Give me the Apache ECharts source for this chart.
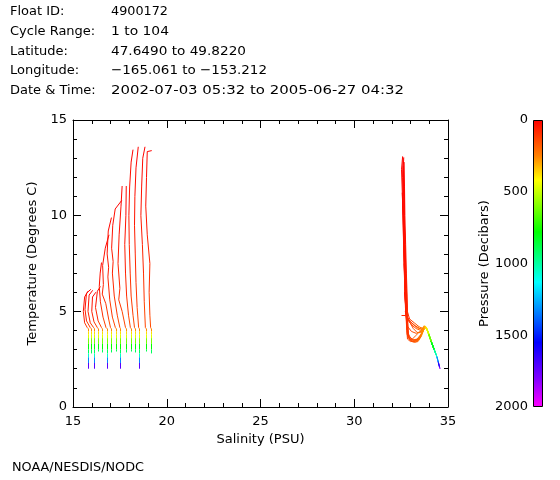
<!DOCTYPE html>
<html><head><meta charset="utf-8">
<script src="https://cdn.jsdelivr.net/npm/echarts@6/dist/echarts.min.js"></script>
<style>html,body{margin:0;padding:0;background:#fff}#c{width:560px;height:480px}</style>
</head><body><div id="c"></div>
<script>
// ---- header text ----
const headerKeys = ['Float ID:', 'Cycle Range:', 'Latitude:', 'Longitude:', 'Date & Time:'];
const headerValues = ['4900172', '1 to 104', '47.6490 to 49.8220', '\u2212165.061 to \u2212153.212', '2002-07-03 05:32 to 2005-06-27 04:32'];
const footerText = 'NOAA/NESDIS/NODC';
const xTitle = 'Salinity (PSU)';
const yTitle = 'Temperature (Degrees C)';
const cbTitle = 'Pressure (Decibars)';
const pressureTicks = [0, 500, 1000, 1500, 2000];
// pressure colour scale stops
const pStops = [0, 250, 420, 600, 780, 1130, 1550, 1800, 2000];
const pColors = ['#ff0000', '#ff8000', '#ffff00', '#80ff00', '#00ff00', '#00ffff', '#0000ff', '#8000ff', '#ff00ff'];

// ---- profiles: [salinity, temperature, pressure] ----
const L01 = [[15.80,6.05,0],[15.62,5.75,20],[15.55,5.00,40],[15.62,4.40,70],[15.76,4.15,150],[15.80,4.10,200],[15.80,3.95,330],[15.80,3.80,420],[15.80,3.60,520],[15.80,3.30,700],[15.80,3.00,850],[15.80,2.80,950],[15.80,2.60,1150],[15.80,2.30,1500],[15.80,2.00,1950]];
const L02 = [[15.95,6.15,0],[15.72,5.95,20],[15.64,5.10,40],[15.72,4.50,70],[15.92,4.15,150],[15.96,4.10,200],[15.96,3.95,330],[15.96,3.80,420],[15.96,3.60,520],[15.96,3.30,700],[15.96,3.00,850],[15.96,2.80,950]];
const L03 = [[16.05,6.10,0],[15.86,5.85,20],[15.80,5.00,50],[15.92,4.40,80],[16.10,4.15,150],[16.14,4.10,200],[16.14,3.95,330],[16.14,3.80,420],[16.14,3.60,520],[16.14,3.30,700],[16.14,3.00,850],[16.14,2.80,950],[16.14,2.60,1150],[16.14,2.30,1500],[16.14,2.00,1950]];
const L04 = [[16.22,6.00,0],[16.04,5.75,20],[16.00,5.00,50],[16.12,4.45,80],[16.30,4.15,150],[16.33,4.10,200],[16.33,3.95,330],[16.33,3.80,420],[16.33,3.60,520],[16.33,3.30,700],[16.33,3.00,850],[16.33,2.90,920]];
const L05 = [[16.46,6.30,0],[16.30,6.05,20],[16.20,5.20,50],[16.34,4.50,90],[16.52,4.15,150],[16.55,4.10,200],[16.55,3.95,330],[16.55,3.80,420],[16.55,3.60,520],[16.55,3.30,700],[16.55,3.00,850],[16.55,2.85,950]];
const L06 = [[16.52,7.55,0],[16.45,7.00,20],[16.40,6.30,40],[16.46,5.50,70],[16.60,4.70,100],[16.76,4.15,150],[16.80,4.10,200],[16.80,3.95,330],[16.80,3.80,420],[16.80,3.60,520],[16.80,3.30,700],[16.80,3.00,850],[16.80,2.80,950],[16.80,2.60,1150],[16.80,2.30,1500],[16.80,2.00,1950]];
const L07 = [[16.92,9.00,0],[16.72,8.30,20],[16.58,7.40,40],[16.62,6.40,60],[16.56,5.90,75],[16.75,5.40,90],[16.90,4.60,120],[17.00,4.15,160],[17.03,4.10,200],[17.03,3.95,330],[17.03,3.80,420],[17.03,3.60,520],[17.03,3.30,700],[17.03,3.00,850],[17.03,2.85,950]];
const L08 = [[17.05,9.90,0],[16.88,9.20,20],[16.82,8.00,40],[16.90,7.30,50],[16.86,6.80,60],[16.96,5.60,90],[17.10,4.70,120],[17.26,4.15,160],[17.29,4.10,200],[17.29,3.95,330],[17.29,3.80,420],[17.29,3.60,520],[17.29,3.30,700],[17.29,3.00,850],[17.29,2.90,920]];
const L09 = [[17.60,10.80,0],[17.25,10.35,15],[17.12,9.50,30],[17.06,8.30,45],[17.14,7.60,55],[17.10,7.00,65],[17.20,5.80,90],[17.36,4.80,120],[17.50,4.15,160],[17.53,4.10,200],[17.53,3.95,330],[17.53,3.80,420],[17.53,3.60,520],[17.53,3.30,700],[17.53,3.00,850],[17.53,2.80,950],[17.53,2.60,1150],[17.53,2.30,1500],[17.53,2.00,1950]];
const L10 = [[17.62,11.55,0],[17.56,10.50,20],[17.46,9.00,40],[17.40,7.50,60],[17.50,6.20,85],[17.44,5.60,100],[17.62,5.00,115],[17.80,4.15,160],[17.83,4.10,200],[17.83,3.95,330],[17.83,3.80,420],[17.83,3.60,520],[17.83,3.30,700],[17.83,3.00,850],[17.83,2.85,950]];
const L11 = [[17.84,11.55,0],[17.82,10.00,25],[17.76,8.50,45],[17.80,7.00,65],[17.86,5.80,90],[17.96,4.80,120],[18.06,4.15,160],[18.09,4.10,200],[18.09,3.95,330],[18.09,3.80,420],[18.09,3.60,520],[18.09,3.30,700],[18.09,3.00,850],[18.09,2.90,920]];
const L12 = [[18.20,13.45,0],[18.10,12.80,15],[18.02,11.50,30],[17.98,10.00,45],[18.00,8.50,65],[18.05,7.00,85],[18.10,5.80,105],[18.20,4.80,130],[18.28,4.15,160],[18.31,4.10,200],[18.31,3.95,330],[18.31,3.80,420],[18.31,3.60,520],[18.31,3.30,700],[18.31,3.00,850],[18.31,2.85,950]];
const L13 = [[18.48,13.60,0],[18.36,12.50,15],[18.30,11.00,30],[18.28,9.50,45],[18.32,8.00,65],[18.36,6.50,90],[18.42,5.20,115],[18.50,4.15,160],[18.53,4.10,200],[18.53,3.95,330],[18.53,3.80,420],[18.53,3.60,520],[18.53,3.30,700],[18.53,3.00,850],[18.53,2.80,950],[18.53,2.60,1150],[18.53,2.30,1500],[18.53,2.00,1950]];
const L14 = [[18.84,13.60,0],[18.72,13.00,10],[18.66,11.50,25],[18.62,10.00,40],[18.70,8.50,60],[18.76,7.00,85],[18.80,5.50,110],[18.86,4.15,160],[18.89,4.10,200],[18.89,3.95,330],[18.89,3.80,420],[18.89,3.60,520],[18.89,3.30,700],[18.89,3.00,850],[18.89,2.90,920]];
const L15 = [[19.20,13.40,0],[18.96,13.35,5],[18.92,12.00,20],[18.88,10.50,35],[18.96,9.00,55],[19.10,7.50,80],[19.06,6.00,105],[19.10,4.80,130],[19.14,4.15,160],[19.16,4.10,200],[19.16,3.95,330],[19.16,3.80,420],[19.16,3.60,520],[19.16,3.30,700],[19.16,3.00,850],[19.16,2.80,960]];

const R01 = [[32.58,13.10,0],[32.52,12.40,10],[32.57,11.00,20],[32.61,9.50,30],[32.65,8.00,40],[32.69,6.50,55],[32.73,5.20,75],[32.77,4.60,90],[32.80,4.00,110],[32.84,3.55,130],[33.00,3.42,150],[33.25,3.45,180],[33.50,3.60,210],[33.68,4.00,260],[33.78,4.20,330],[33.88,4.05,420],[34.00,3.70,560],[34.12,3.35,720],[34.28,2.95,950],[34.40,2.65,1150],[34.48,2.35,1450],[34.53,2.15,1700],[34.57,2.00,1950]];
const R02 = [[32.62,12.20,0],[32.61,11.00,15],[32.65,9.00,30],[32.69,7.50,45],[32.73,6.00,60],[32.76,5.00,80],[32.79,4.40,100],[32.82,3.80,120],[32.95,3.55,140],[33.15,3.48,165],[33.40,3.55,195],[33.60,3.85,240],[33.75,4.15,310],[33.85,4.10,400],[33.95,3.85,480],[34.06,3.52,640],[34.18,3.20,820],[34.30,2.90,980]];
const R03 = [[32.60,10.50,0],[32.63,9.20,15],[32.66,7.80,30],[32.70,6.40,45],[32.74,5.20,65],[32.77,4.80,85],[33.00,4.45,110],[33.25,4.25,150],[33.50,4.10,200],[33.70,4.15,280],[33.80,4.20,350],[33.88,4.08,420],[33.98,3.78,540],[34.12,3.38,720],[34.26,3.00,920],[34.38,2.70,1100],[34.47,2.40,1400],[34.53,2.15,1700],[34.57,2.00,1950]];
const R04 = [[32.64,9.00,0],[32.67,7.80,15],[32.71,6.50,30],[32.75,5.40,50],[32.78,4.70,80],[32.85,4.20,100],[33.05,3.95,130],[33.30,3.85,170],[33.55,3.95,220],[33.74,4.22,310],[33.84,4.12,400],[33.96,3.82,520],[34.10,3.42,700],[34.24,3.05,900],[34.36,2.75,1060]];
const R05 = [[32.66,7.50,0],[32.70,6.60,15],[32.74,5.60,35],[32.80,4.50,90],[32.88,3.70,120],[33.10,3.55,150],[33.30,3.75,180],[33.45,3.90,205],[33.62,3.98,245],[33.76,4.22,320],[33.86,4.10,410],[33.94,3.88,500],[34.08,3.48,680],[34.22,3.10,880],[34.34,2.80,1030]];
const R06 = [[32.68,6.00,0],[32.72,5.50,20],[32.76,5.00,45],[32.82,4.60,80],[33.05,4.30,120],[33.30,4.10,160],[33.55,4.00,210],[33.72,4.18,300],[33.82,4.20,360],[33.90,4.00,450],[34.02,3.65,600],[34.16,3.28,780],[34.30,2.92,960]];
const R07 = [[32.72,5.00,0],[32.76,4.90,30],[32.80,4.60,60],[32.84,4.00,100],[32.90,3.60,130],[33.10,3.40,155],[33.35,3.50,185],[33.55,3.72,220],[33.72,4.25,300],[33.84,4.15,400],[33.96,3.85,520],[34.10,3.45,700],[34.25,3.05,900]];
const R08 = [[32.52,4.80,70],[32.76,4.82,80],[32.80,4.40,100],[32.85,3.90,115],[33.00,3.60,135],[33.20,3.48,160],[33.45,3.52,200],[33.64,3.92,255],[33.79,4.15,340],[33.89,4.05,440],[34.02,3.70,580],[34.15,3.32,760],[34.28,2.98,940]];
const R09 = [[32.56,11.20,0],[32.60,10.00,15],[32.63,8.50,30],[32.67,7.00,45],[32.72,5.60,65],[32.78,4.80,85],[32.95,4.45,110],[33.15,4.10,145],[33.35,3.90,185],[33.55,3.88,225],[33.70,4.08,280],[33.80,4.18,350],[33.90,4.02,450],[34.02,3.68,590],[34.16,3.30,770],[34.30,2.92,960],[34.41,2.62,1160],[34.49,2.32,1470],[34.55,2.08,1800]];
const R10 = [[32.60,13.00,0],[32.58,12.00,10],[32.61,10.50,20],[32.65,9.00,30],[32.69,7.50,40],[32.73,6.00,55],[32.77,5.00,75],[32.81,4.20,100],[32.86,3.65,125],[33.05,3.45,150],[33.30,3.40,180],[33.52,3.62,215],[33.70,4.05,285],[33.82,4.18,370],[33.93,3.95,470],[34.06,3.55,630],[34.20,3.15,840],[34.33,2.85,1010]];
const R11 = [[32.62,12.60,0],[32.64,11.40,10],[32.66,10.00,20],[32.70,8.50,30],[32.74,7.00,45],[32.78,5.80,60],[32.80,5.00,75],[32.84,4.60,90],[33.10,4.35,130],[33.35,4.15,175],[33.60,4.05,230],[33.76,4.20,320],[33.86,4.10,410],[33.98,3.80,540],[34.12,3.40,720]];
const R12 = [[32.66,10.00,0],[32.70,9.00,15],[32.74,7.50,30],[32.78,6.20,45],[32.82,5.20,65],[32.84,4.40,90],[32.86,3.80,115],[32.98,3.50,140],[33.18,3.38,165],[33.40,3.42,195],[33.58,3.70,230],[33.74,4.12,300],[33.84,4.16,390],[33.96,3.86,510],[34.10,3.44,700],[34.24,3.05,900]];
const R13 = [[32.66,12.80,0],[32.68,11.50,10],[32.70,10.00,20],[32.74,8.50,30],[32.78,7.00,45],[32.82,5.80,60],[32.84,5.00,75],[32.86,4.40,95],[32.90,3.70,120],[33.10,3.50,150],[33.35,3.55,185],[33.56,3.80,225],[33.73,4.18,300],[33.84,4.12,390],[33.96,3.84,510],[34.10,3.43,700],[34.24,3.04,900]];
const R14 = [[32.64,13.05,0],[32.60,12.20,10],[32.64,10.80,20],[32.68,9.20,30],[32.72,7.60,40],[32.76,6.20,55],[32.80,5.10,75],[32.95,4.60,100],[33.20,4.40,140],[33.45,4.20,185],[33.65,4.10,240],[33.78,4.22,330],[33.88,4.08,420],[33.98,3.80,540],[34.12,3.40,720],[34.26,3.00,920],[34.38,2.70,1100]];

const leftGroup = [L01, L02, L03, L04, L05, L06, L07, L08, L09, L10, L11, L12, L13, L14, L15];
const rightGroup = [R01, R02, R03, R04, R05, R06, R07, R08, R09, R10, R11, R12, R13, R14];

// ---- layout constants (pixel) ----
const headerValueEnds = [168, 169, 246, 267, 404];
const footerEnd = 144;

// ---- build ----
function hexToRgb(h) { return [parseInt(h.slice(1,3),16), parseInt(h.slice(3,5),16), parseInt(h.slice(5,7),16)]; }
function colorAt(p) {
  if (p <= pStops[0]) return pColors[0];
  for (let i = 1; i < pStops.length; i++) {
    if (p <= pStops[i]) {
      const f = (p - pStops[i-1]) / (pStops[i] - pStops[i-1]);
      const a = hexToRgb(pColors[i-1]), b = hexToRgb(pColors[i]);
      const c = a.map((v, k) => Math.round(v + (b[k] - v) * f));
      return 'rgb(' + c.join(',') + ')';
    }
  }
  return pColors[pColors.length - 1];
}
const segs = [];
leftGroup.concat(rightGroup).forEach(prof => {
  for (let i = 1; i < prof.length; i++) {
    const a = prof[i-1], b = prof[i];
    segs.push({ coords: [[a[0], a[1]], [b[0], b[1]]], lineStyle: { color: colorAt((a[2] + b[2]) / 2) } });
  }
});

const FONT = 'DejaVu Sans';
const FS = 13;
const fontStr = FS + 'px "' + FONT + '"';
const black = '#000';
const mctx = document.createElement('canvas').getContext('2d');
mctx.font = fontStr;
function plainText(text, x0, y) {
  return { type: 'text', x: x0, y: y, style: { text: text, fill: black, font: fontStr, verticalAlign: 'middle' } };
}
function fitText(text, x0, x1, y) {
  const w = mctx.measureText(text).width;
  let sx = w > 0 ? (x1 - x0) / w : 1;
  sx = Math.max(0.95, Math.min(1.2, sx));
  return { type: 'text', x: x0, y: y, scaleX: sx, style: { text: text, fill: black, font: fontStr, verticalAlign: 'middle' } };
}
const graphics = [];
headerKeys.forEach((k, i) => {
  const y = 12 + i * 19.6;
  graphics.push(plainText(k, 10, y));
  graphics.push(fitText(headerValues[i], 111, headerValueEnds[i], y));
});
graphics.push(fitText(footerText, 12, footerEnd, 468));

const labelStyle = { color: black, fontFamily: FONT, fontSize: FS };
const axisCommon = {
  type: 'value', gridIndex: 0,
  axisLine: { show: true, onZero: false, lineStyle: { color: black, width: 1 } },
  axisTick: { show: true, inside: true, length: 8, lineStyle: { color: black } },
  minorTick: { show: true, splitNumber: 5, length: 4, lineStyle: { color: black } },
  splitLine: { show: false },
  axisLabel: labelStyle
};
const gradStops = pStops.map((p, i) => ({ offset: p / 2000, color: pColors[i] }));

const chart = echarts.init(document.getElementById('c'), null, { renderer: 'canvas' });
chart.setOption({
  animation: false,
  backgroundColor: '#fff',
  grid: [
    { left: 73, top: 120, width: 375, height: 287 },
    { left: 533, top: 120, width: 10, height: 287 }
  ],
  xAxis: [
    Object.assign({}, axisCommon, { position: 'bottom', min: 15, max: 35, interval: 5,
      axisLabel: Object.assign({ margin: 8 }, labelStyle),
      name: xTitle, nameLocation: 'middle', nameGap: 23, nameTextStyle: labelStyle }),
    Object.assign({}, axisCommon, { position: 'top', min: 15, max: 35, interval: 5, axisLabel: { show: false } }),
    { type: 'category', gridIndex: 1, data: ['p'], show: false }
  ],
  yAxis: [
    Object.assign({}, axisCommon, { position: 'left', min: 0, max: 15, interval: 5,
      axisLabel: Object.assign({ margin: 6 }, labelStyle),
      name: yTitle, nameLocation: 'middle', nameGap: 30, nameRotate: 90, nameTextStyle: labelStyle }),
    Object.assign({}, axisCommon, { position: 'right', min: 0, max: 15, interval: 5, axisLabel: { show: false } }),
    { type: 'value', gridIndex: 1, position: 'left', inverse: true, min: pressureTicks[0], max: pressureTicks[pressureTicks.length - 1], interval: 500,
      axisLine: { show: false }, axisTick: { show: false }, splitLine: { show: false },
      axisLabel: Object.assign({ margin: 5, formatter: v => String(v) }, labelStyle),
      name: cbTitle, nameLocation: 'middle', nameGap: 41, nameRotate: 90, nameTextStyle: labelStyle }
  ],
  series: [
    { type: 'lines', coordinateSystem: 'cartesian2d', xAxisIndex: 0, yAxisIndex: 0, polyline: false, silent: true,
      lineStyle: { width: 1, opacity: 1 }, data: segs },
    { type: 'bar', xAxisIndex: 2, yAxisIndex: 2, barWidth: '100%', silent: true, data: [2000],
      itemStyle: { color: new echarts.graphic.LinearGradient(0, 120, 0, 407, gradStops, true), borderColor: black, borderWidth: 1 } }
  ],
  graphic: graphics
});
</script></body></html>
